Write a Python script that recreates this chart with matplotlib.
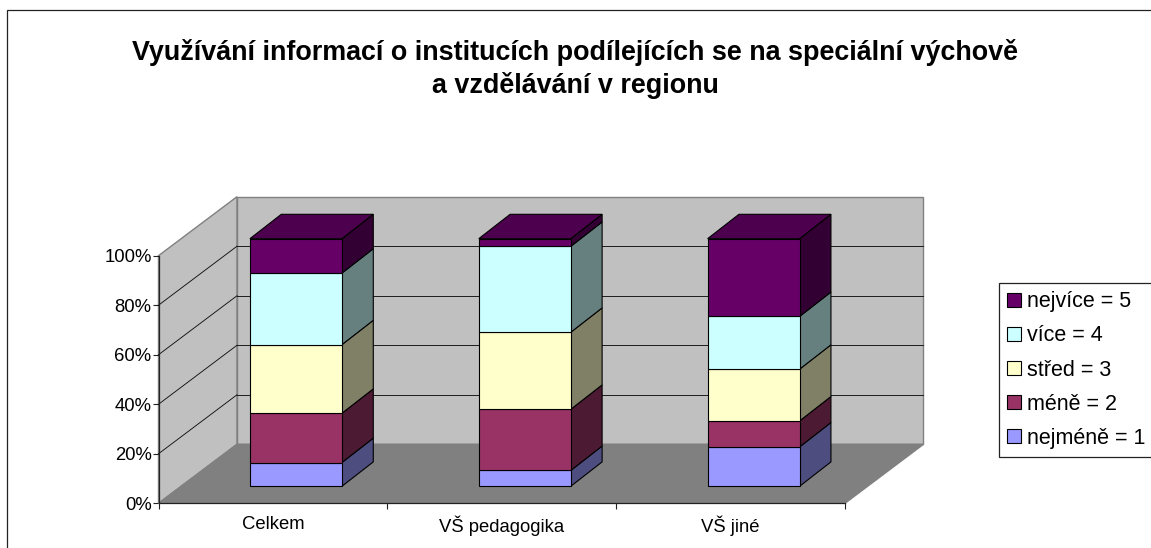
import matplotlib as mpl; mpl.use('Agg'); import matplotlib.pyplot as plt
from matplotlib.patches import Polygon,Patch,Rectangle
mpl.rcParams.update({'font.family':['Liberation Sans','DejaVu Sans'],'font.size':13})

categories=['Celkem','VŠ pedagogika','VŠ jiné']
series=['nejméně = 1','méně = 2','střed = 3','více = 4','nejvíce = 5']
nejmene=[9.6,6.4,15.9]
mene=[19.9,24.7,10.5]
stred=[27.7,31.1,20.9]
vice=[28.9,34.7,21.3]
nejvice=[13.9,3.1,31.4]
yticks=[0,20,40,60,80,100]
title='Využívání informací o institucích podílejících se na speciální výchově\na vzdělávání v regionu'
front=['#9999FF','#993366','#FFFFCC','#CCFFFF','#660066']
side=['#4D4D80','#4D1A33','#808066','#668080','#330033']
top_c='#4D004D'
W,H=1151,548
# front plane of the 3d box, in pixels
L,R,B,T=158.5,845,503.3,255.7
DX,DY=78.5/((R-L)/3),59/((B-T)/100)      # depth of the box, data units
bw=0.402; ox=0.1006; oy=6.87; bdx=0.137; bdy=9.85

fig=plt.figure(figsize=(W/100,H/100),dpi=100,facecolor='white')
ax=fig.add_axes([L/W,1-B/H,(R-L)/W,(B-T)/H]); ax.set_xlim(0,3); ax.set_ylim(0,100); ax.patch.set_alpha(0)
for s in ['top','right']: ax.spines[s].set_visible(False)
for s in ['left','bottom']: ax.spines[s].set_linewidth(0.9); ax.spines[s].set_color('#222222'); ax.spines[s].set_zorder(6)
def poly(pts,fc,ec,lw=0.8,z=1):
    ax.add_patch(Polygon(pts,closed=True,fc=fc,ec=ec,lw=lw,zorder=z,clip_on=False))
# walls and floor
poly([(0,0),(DX,DY),(DX,100+DY),(0,100)],'#C0C0C0','#808080',1.0)
poly([(DX,DY),(3+DX,DY),(3+DX,100+DY),(DX,100+DY)],'#C0C0C0','#808080',1.0)
poly([(0,0),(3,0),(3+DX,DY),(DX,DY)],'#808080','#808080',1.0,z=2)
for v in yticks[1:-1]:
    ax.plot([0,DX],[v,v+DY],color='#111111',lw=0.65,zorder=3,clip_on=False)
    ax.plot([DX,3+DX],[v+DY,v+DY],color='#111111',lw=0.65,zorder=3,clip_on=False)
# stacked 3d bars
stack=[nejmene,mene,stred,vice,nejvice]
for i in range(len(categories)):
    x0=i+0.5-bw/2+ox; x1=x0+bw; base=oy
    for j,vals in enumerate(stack):
        t=base+vals[i]
        poly([(x1,base),(x1+bdx,base+bdy),(x1+bdx,t+bdy),(x1,t)],side[j],'black',z=4)
        poly([(x0,base),(x1,base),(x1,t),(x0,t)],front[j],'black',z=5)
        base=t
    poly([(x0,base),(x1,base),(x1+bdx,base+bdy),(x0+bdx,base+bdy)],top_c,'black',z=5)
ax.set_yticks(yticks); ax.set_yticklabels([f'{v}%' for v in yticks])
ax.set_xticks([0,1,2,3]); ax.set_xticklabels([])
ax.set_xticks([0.5,1.5,2.5],minor=True); ax.set_xticklabels(categories,minor=True,fontsize=13.3)
ax.tick_params(axis='x',which='minor',length=0,pad=9)
ax.tick_params(axis='x',which='major',length=4,width=0.8,color='#222222')
ax.tick_params(axis='y',length=4,width=0.8,color='#222222',pad=1,labelsize=13.3)
# chart border runs off the right and bottom of the picture
fig.add_artist(Rectangle((7.5/W,-0.05),1.1,1.05-10.5/H,transform=fig.transFigure,fc='none',ec='#222222',lw=0.9))
fig.text(575/W,1-69/H,title,ha='center',va='center',fontsize=19.4,fontweight='bold',linespacing=1.28)
hs=[Patch(fc=front[j],ec='black',lw=0.8,label=series[j]) for j in range(4,-1,-1)]
leg=fig.legend(handles=hs,loc='upper left',bbox_to_anchor=(998.7/W,1-283.3/H),bbox_transform=fig.transFigure,frameon=True,
    fancybox=False,edgecolor='#222222',framealpha=1,fontsize=15.5,handlelength=0.65,handleheight=0.65,handletextpad=0.31,
    borderpad=0.37,labelspacing=0.61,borderaxespad=0)
leg.get_frame().set_linewidth(0.9)
fig.savefig('out.png',dpi=100,facecolor='white'); plt.close()
